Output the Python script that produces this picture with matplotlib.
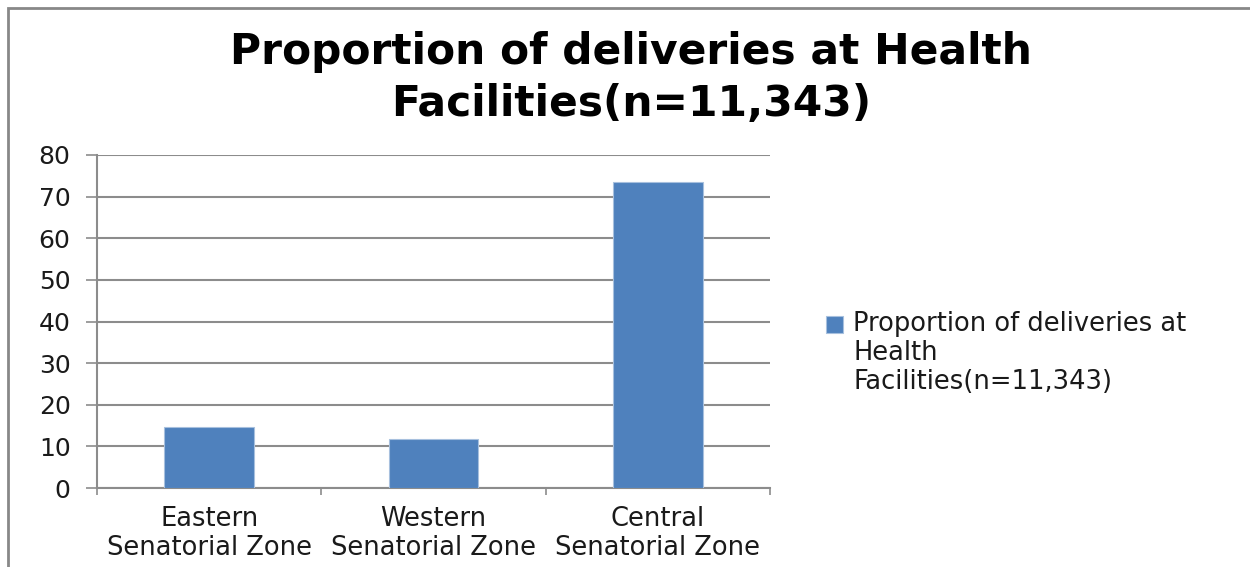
import matplotlib
matplotlib.use("Agg")
import matplotlib.pyplot as plt
from matplotlib.patches import Rectangle
from matplotlib.legend_handler import HandlerPatch
from matplotlib.container import BarContainer
import numpy as np

title = "Proportion of deliveries at Health\nFacilities(n=11,343)"
categories = ["Eastern\nSenatorial Zone", "Western\nSenatorial Zone", "Central\nSenatorial Zone"]
values = [14.6, 11.7, 73.4]
legend_label = "Proportion of deliveries at\nHealth\nFacilities(n=11,343)"
yticks = [0, 10, 20, 30, 40, 50, 60, 70, 80]

plt.rcParams['font.family'] = ['DejaVu Sans']

fig = plt.figure(figsize=(12.5, 5.67), dpi=100)
fig.patches.append(Rectangle((8/1250, -0.1), 1.2, 1 - 8/567 + 0.1, transform=fig.transFigure,
                             fill=False, edgecolor='#888888', linewidth=2))

ax = fig.add_axes([97/1250, 1 - 488/567, (770 - 97)/1250, (488 - 155)/567])
x = np.arange(len(categories))
bars = ax.bar(x, values, width=0.4, color='#4F81BD', edgecolor='#A7C0DE', linewidth=0.8,
              label=legend_label, zorder=3)

ax.set_xlim(-0.5, len(categories) - 0.5)
ax.set_ylim(0, 80)
ax.set_yticks(yticks)
ax.set_yticklabels([str(t) for t in yticks], fontsize=18, color='#1a1a1a')
ax.yaxis.grid(True, color='#8c8c8c', linewidth=1.5, zorder=0)
ax.set_axisbelow(True)

ax.set_xticks(x)
ax.set_xticklabels(categories, fontsize=18.5, linespacing=1.15, color='#1a1a1a')
ax.tick_params(axis='x', length=0, pad=13)
ax.set_xticks(np.arange(-0.5, len(categories)), minor=True)
ax.tick_params(axis='x', which='minor', length=5, width=1.2, color='#8c8c8c')
ax.tick_params(axis='y', length=8, width=1.2, color='#8c8c8c', pad=11)

for s in ['top', 'right']:
    ax.spines[s].set_visible(False)
for s in ['left', 'bottom']:
    ax.spines[s].set_color('#8c8c8c')
    ax.spines[s].set_linewidth(1.5)

fig.text(0.505, 0.945, title, ha='center', va='top', fontsize=30.5, fontweight='bold',
         linespacing=1.3)


def top_aligned_square(legend, orig_handle, xdescent, ydescent, width, height, fontsize):
    return Rectangle((-xdescent, -ydescent + 21.5), width, height)


def copy_style(legend_handle, orig_handle):
    legend_handle.update_from(orig_handle[0])


leg = fig.legend(loc='upper left', bbox_to_anchor=(816/1250, 1 - 301/567), frameon=False,
                 fontsize=18.5, handlelength=0.65, handleheight=0.65, handletextpad=0.4,
                 borderaxespad=0, labelspacing=0.2,
                 handler_map={BarContainer: HandlerPatch(patch_func=top_aligned_square,
                                                         update_func=copy_style)})
for t in leg.get_texts():
    t.set_linespacing(1.15)
    t.set_color('#1a1a1a')

fig.savefig("out.png", dpi=100)
